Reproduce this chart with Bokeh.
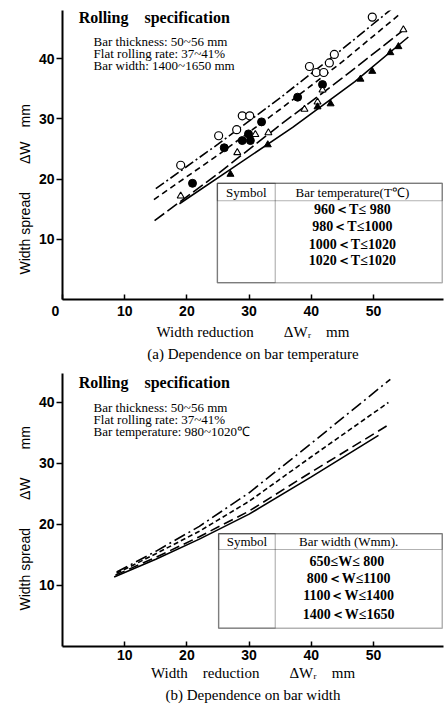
import numpy as np
from bokeh.plotting import figure
from bokeh.models import Label, BoxAnnotation, FixedTicker, Range1d, Title
from bokeh.layouts import column
from bokeh.embed import file_html
from bokeh.resources import INLINE

# ---------------- Panel (a): dependence on bar temperature ----------------
a_labels = ["960＜T≤ 980", "980＜T≤1000", "1000＜T≤1020", "1020＜T≤1020"]
a_header = "Bar temperature(T℃)"

# measured points
a_oc_x = [19.0, 25.1, 28.0, 28.9, 30.1, 39.7, 40.8, 42.0, 42.9, 43.7, 49.8]
a_oc_y = [22.3, 27.2, 28.2, 30.5, 30.5, 38.7, 37.7, 37.7, 39.3, 40.7, 46.9]
a_fc_x = [20.9, 26.0, 28.9, 29.9, 30.2, 32.0, 37.8, 41.8]
a_fc_y = [19.3, 25.2, 26.4, 27.5, 26.4, 29.5, 33.6, 35.7]
a_ot_x = [19.0, 28.1, 31.0, 33.1, 38.9, 41.0, 41.8, 54.8]
a_ot_y = [17.2, 24.4, 27.4, 27.7, 31.6, 32.8, 34.8, 44.8]
a_ft_x = [27.0, 33.0, 41.0, 43.1, 47.9, 49.8, 52.7, 54.0]
a_ft_y = [20.8, 25.7, 32.0, 32.5, 36.6, 37.9, 41.0, 42.0]

# fitted curves
a_c1_x = [15.0, 25.0, 35.0, 45.0, 53.2]
a_c1_y = [18.4, 25.8, 33.5, 41.6, 48.5]
a_c2_x = [14.7, 25.0, 35.0, 45.0, 54.0]
a_c2_y = [16.6, 24.0, 31.6, 39.5, 47.2]
a_c3_x = [14.8, 25.0, 35.0, 45.0, 55.5]
a_c3_y = [13.1, 20.9, 29.0, 36.8, 45.3]
a_c4_x = [18.8, 27.0, 37.0, 47.0, 55.6]
a_c4_y = [15.9, 21.6, 28.6, 36.2, 43.6]

a_xticks = [0, 10, 20, 30, 40, 50]
a_yticks = [10, 20, 30, 40]

# ---------------- Panel (b): dependence on bar width ----------------
b_labels = ["650≤W≤  800", "800＜W≤1100", "1100＜W≤1400", "1400＜W≤1650"]
b_header = "Bar width (Wmm)."
b_c1_x = [8.3, 15.0, 22.0, 30.0, 40.0, 50.8]
b_c1_y = [11.4, 14.3, 17.6, 21.7, 27.8, 34.6]
b_c2_x = [8.5, 15.0, 22.0, 30.0, 40.0, 52.2]
b_c2_y = [11.7, 14.6, 18.0, 22.2, 28.6, 36.2]
b_c3_x = [8.7, 15.0, 22.0, 30.0, 40.0, 52.4]
b_c3_y = [12.0, 15.2, 18.9, 23.8, 31.1, 40.0]
b_c4_x = [8.7, 15.0, 22.0, 30.0, 40.0, 52.7]
b_c4_y = [12.2, 15.6, 19.7, 25.2, 33.3, 43.8]

b_xticks = [10, 20, 30, 40, 50]
b_yticks = [10, 20, 30, 40]

SERIF = "Liberation Serif"
SANS = "Liberation Sans"
XMAX = 61.25
EM = "\u2003"
EN = "\u2002"


def style_axes(p, xticks, yticks):
    p.outline_line_color = None
    p.xgrid.grid_line_color = None
    p.ygrid.grid_line_color = None
    p.xaxis.ticker = FixedTicker(ticks=xticks)
    p.yaxis.ticker = FixedTicker(ticks=yticks)
    for ax in (p.xaxis[0], p.yaxis[0]):
        ax.axis_line_width = 2
        ax.axis_line_color = "black"
        ax.major_tick_line_color = "black"
        ax.major_tick_line_width = 1.5
        ax.minor_tick_line_color = None
        ax.major_label_text_font = SANS
        ax.major_label_text_font_style = "bold"
        ax.major_label_text_font_size = "14px"
        ax.major_label_text_color = "black"
        ax.axis_label_text_color = "black"
    p.xaxis.major_tick_in = 5
    p.xaxis.major_tick_out = 0
    p.yaxis.major_tick_in = 0
    p.yaxis.major_tick_out = 6
    p.yaxis.major_label_standoff = 2
    p.xaxis.major_label_standoff = 3
    p.xaxis.axis_label_text_font = SERIF
    p.xaxis.axis_label_text_font_style = "normal"
    p.xaxis.axis_label_text_font_size = "15px"
    p.xaxis.axis_label_standoff = 2
    p.title.align = "center"
    p.title.text_font = SERIF
    p.title.text_font_style = "normal"
    p.title.text_font_size = "15px"
    p.title.text_color = "black"
    p.title.standoff = 2


def add_text(p, x, y, text, size="12px", font=SERIF, style="normal", align="left"):
    p.add_layout(Label(x=x, y=y, text=text, text_font=font, text_font_size=size,
                       text_font_style=style, text_align=align, text_baseline="middle",
                       text_color="black"))


def add_ylabel(p, text, offset):
    p.add_layout(Title(text=text, align="left", offset=offset, text_font=SANS,
                       text_font_size="14px", text_font_style="normal", text_color="black",
                       standoff=5), "left")


def add_table(p, top, head, bottom, left, divider):
    p.add_layout(BoxAnnotation(left=left, right=XMAX - 0.2, top=top, bottom=bottom,
                               fill_color="white", fill_alpha=1.0,
                               line_color="black", line_width=1.5))
    p.add_layout(BoxAnnotation(left=left, right=XMAX - 0.2, top=top, bottom=head,
                               fill_alpha=0, line_color="black", line_width=1.2))
    p.add_layout(BoxAnnotation(left=left, right=divider, top=top, bottom=bottom,
                               fill_alpha=0, line_color="black", line_width=1.2))


# ======================= figure (a) =======================
pa = figure(width=446, height=362, x_range=Range1d(0, XMAX), y_range=Range1d(0, 48.0),
            output_backend="svg", toolbar_location=None, title_location="below",
            min_border_left=62, min_border_right=3, min_border_top=10, min_border_bottom=59)
pa.title.text = "(a) Dependence on bar temperature"
pa.xaxis.axis_label = "Width reduction" + EM * 2 + "ΔWᵣ" + EM + "mm"
style_axes(pa, a_xticks, a_yticks)
pa.xaxis.major_label_overrides = {0: "0" + EM}
add_ylabel(pa, "Width spread" + EM * 2 + "ΔW" + EM + "mm", 25)

a_curves = [(a_c1_x, a_c1_y, "10 3 2 3"), (a_c2_x, a_c2_y, "6 4"),
            (a_c3_x, a_c3_y, "12 4"), (a_c4_x, a_c4_y, "solid")]
for cx, cy, dash in a_curves:
    pa.line(cx, cy, line_color="black", line_width=1.6, line_dash=dash)

pa.scatter(a_oc_x, a_oc_y, marker="circle", size=8, fill_color="white", line_color="black", line_width=1.2)
pa.scatter(a_fc_x, a_fc_y, marker="circle", size=8, fill_color="black", line_color="black")
pa.scatter(a_ot_x, a_ot_y, marker="triangle", size=7, fill_color="white", line_color="black", line_width=1.1)
pa.scatter(a_ft_x, a_ft_y, marker="triangle", size=7, fill_color="black", line_color="black")

# specification text
add_text(pa, 2.6, 46.9, "Rolling" + EM + "specification", size="16px", style="bold")
add_text(pa, 5.0, 42.8, "Bar thickness: 50~56 mm", size="13px")
add_text(pa, 5.0, 40.9, "Flat rolling rate: 37~41%", size="13px")
add_text(pa, 5.0, 38.9, "Bar width: 1400~1650 mm", size="13px")

# legend table (a)
a_top, a_head, a_bot, a_left, a_div = 19.3, 16.4, 2.8, 24.9, 34.2
add_table(pa, a_top, a_head, a_bot, a_left, a_div)
add_text(pa, (a_left + a_div) / 2, 17.8, "Symbol", size="13px", align="center")
add_text(pa, 46.6, 17.8, a_header, size="13px", align="center")
a_rows = [14.9, 12.1, 9.2, 6.4]
a_leg = [("circle", "white", "10 3 2 3"), ("circle", "black", "6 4"),
         ("triangle", "white", "12 4"), ("triangle", "black", "solid")]
sx0, sx1 = 25.6, 33.0
for ry, (mk, fc, dash), lab in zip(a_rows, a_leg, a_labels):
    pa.line([sx0, sx1], [ry, ry], line_color="black", line_width=1.5, line_dash=dash)
    pa.scatter([sx0, sx1], [ry, ry], marker=mk, size=6, fill_color=fc, line_color="black")
    add_text(pa, 46.6, ry, lab, size="14px", style="bold", align="center")

# ======================= figure (b) =======================
pb = figure(width=446, height=347, x_range=Range1d(0, XMAX), y_range=Range1d(0, 44.75),
            output_backend="svg", toolbar_location=None, title_location="below",
            min_border_left=62, min_border_right=3, min_border_top=11, min_border_bottom=63)
pb.title.text = "(b) Dependence on bar width"
pb.xaxis.axis_label = "Width" + EM + "reduction" + EM * 2 + "ΔWᵣ" + EM + "mm"
style_axes(pb, b_xticks, b_yticks)
add_ylabel(pb, "Width spread" + EM * 2 + "ΔW" + EM * 2 + "mm", 36)

b_curves = [(b_c1_x, b_c1_y, "solid"), (b_c2_x, b_c2_y, "10 5"),
            (b_c3_x, b_c3_y, "5 3"), (b_c4_x, b_c4_y, "12 4 2 4")]
for cx, cy, dash in b_curves:
    pb.line(cx, cy, line_color="black", line_width=1.6, line_dash=dash)

add_text(pb, 2.6, 43.3, "Rolling" + EM + "specification", size="16px", style="bold")
add_text(pb, 5.0, 39.2, "Bar thickness: 50~56 mm", size="13px")
add_text(pb, 5.0, 37.2, "Flat rolling rate: 37~41%", size="13px")
add_text(pb, 5.0, 35.3, "Bar temperature: 980~1020℃", size="13px")

b_top, b_head, b_bot, b_left, b_div = 18.5, 15.9, 3.0, 25.1, 34.2
add_table(pb, b_top, b_head, b_bot, b_left, b_div)
add_text(pb, (b_left + b_div) / 2, 17.2, "Symbol", size="13px", align="center")
add_text(pb, 46.0, 17.2, b_header, size="13px", align="center")
b_rows = [13.9, 11.2, 8.3, 5.3]
b_dash = ["solid", "10 5", "5 3", "12 4 2 4"]
for ry, dash, lab in zip(b_rows, b_dash, b_labels):
    pb.line([26.2, 32.3], [ry, ry], line_color="black", line_width=1.6, line_dash=dash)
    add_text(pb, 46.0, ry, lab, size="14px", style="bold", align="center")

layout = column(pa, pb, spacing=0)
open("out.html", "w").write(file_html(layout, INLINE))
